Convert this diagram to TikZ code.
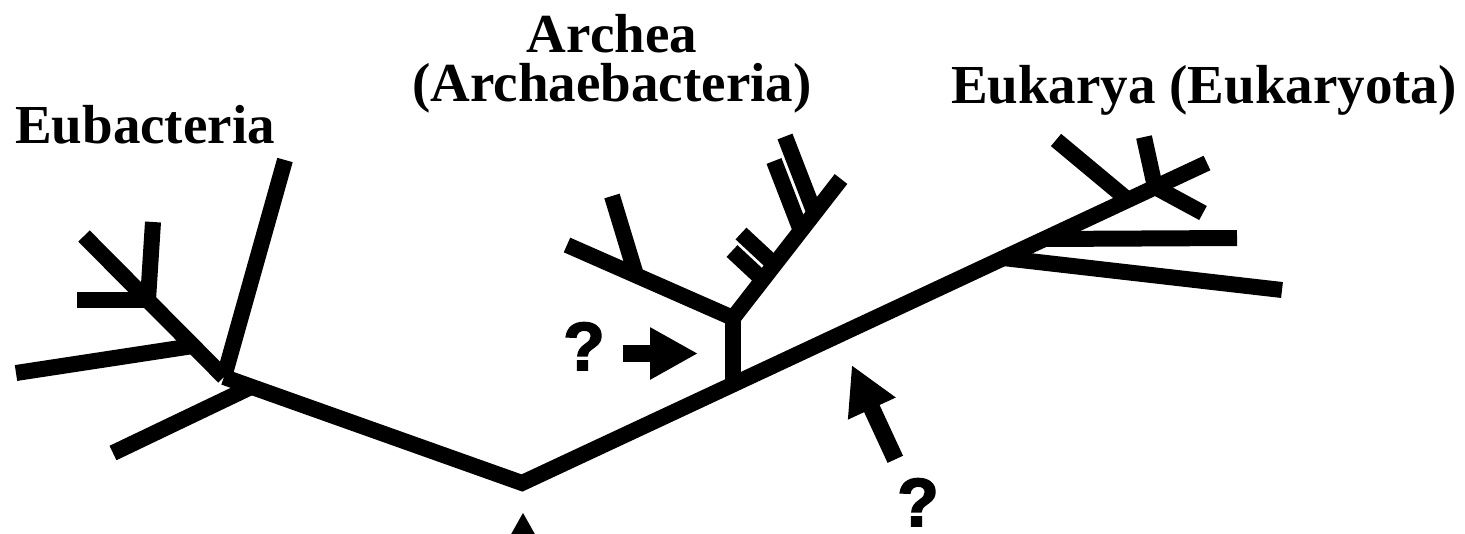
\documentclass[tikz,border=0pt]{standalone}
\usepackage{fontspec}
\setmainfont{Liberation Serif}
\newfontfamily\qfont[FakeBold=2.5]{Liberation Sans}
\usetikzlibrary{arrows.meta}
\begin{document}
\begin{tikzpicture}[x=1pt,y=-1pt,
  br/.style={line width=16pt,line cap=butt,line join=miter},
  lbl/.style={font=\fontsize{55}{45}\selectfont\bfseries, inner sep=0pt},
  qm/.style={font=\qfont\fontsize{68}{68}\selectfont\bfseries, inner sep=0pt},
  ptr/.style={line width=17pt,line cap=butt,-{Triangle[length=48pt,width=49pt]}}]
\useasboundingbox (0,0) rectangle (1465,533);
\fill[white] (0,0) rectangle (1465,533);
\clip (0,0) rectangle (1465,533);

% ---- trunk ----
\coordinate (J1) at (224,377);
\coordinate (V)  at (522,483);
\coordinate (TE) at (1207,163);
\draw[br] (J1) -- (V) -- (TE);

% ---- Eubacteria ----
\coordinate (EbUp) at (285,160);
\coordinate (EbL0) at (251,387);
\coordinate (EbL)  at (113,453);
\coordinate (EbD)  at (84,236);
\coordinate (EbM0) at (193,346);
\coordinate (EbM)  at (16,373);
\coordinate (EbS0) at (148,300);
\coordinate (EbH)  at (77,300);
\coordinate (EbV)  at (153,222);
\draw[br] (J1) -- (EbUp);
\draw[br] (EbL0) -- (EbL);
\draw[br] (J1) -- (EbD);
\draw[br] (EbM0) -- (EbM);
\draw[br] (EbS0) -- (EbH);
\draw[br] (EbS0) -- (EbV);

% ---- Archaea ----
\coordinate (A0) at (733,384);
\coordinate (A)  at (733,318);
\coordinate (AL) at (567,245);
\coordinate (AR) at (841,179);
\coordinate (AS0) at (636,275);
\coordinate (AS)  at (612,196);
\draw[br] (A0) -- (A);
\draw[br] (AL) -- (A) -- (AR);
\draw[br] (AS0) -- (AS);
% upper double branch
\coordinate (Ai0) at (800.9,230.6);
\coordinate (Ai)  at (774,161);
\coordinate (Ao0) at (814.6,213);
\coordinate (Ao)  at (785,136.5);
\draw[br] (Ai0) -- (Ai);
\draw[br] (Ao0) -- (Ao);
% lower double branch
\coordinate (Bu0) at (774.4,264.6);
\coordinate (Bu)  at (741,233.5);
\coordinate (Bl0) at (762.8,279.7);
\coordinate (Bl)  at (732,251);
\draw[br] (Bu0) -- (Bu);
\draw[br] (Bl0) -- (Bl);

% ---- Eukarya ----
\coordinate (E1) at (1003,258);
\coordinate (E1t) at (1282,290);
\coordinate (E2) at (1045,239);
\coordinate (E2t) at (1237,238);
\coordinate (E3) at (1128,200);
\coordinate (E3t) at (1056,140);
\coordinate (E4) at (1155,187);
\coordinate (E4u) at (1144,137);
\coordinate (E4d) at (1203,213);
\draw[br] (E1) -- (E1t);
\draw[br] (E2) -- (E2t);
\draw[br] (E3) -- (E3t);
\draw[br] (E4) -- (E4u);
\draw[br] (E4) -- (E4d);

% ---- labels ----
\node[lbl, anchor=base west] (eub) at (15,143) {Eubacteria};
\node[lbl, anchor=base] (arc1) at (612,52) {Archea};
\node[lbl, anchor=base] (arc2) at (612,101) {(Archaebacteria)};
\node[lbl, anchor=base east] (euk) at (1457,103) {Eukarya (Eukaryota)};

% ---- question marks and pointers ----
\node[qm, anchor=base] (q1) at (584,370) {?};
\node[qm, anchor=base] (q2) at (918,526) {?};
\coordinate (p1a) at (623,353.5);
\coordinate (p1b) at (698,353.5);
\draw[ptr] (p1a) -- (p1b);
\coordinate (p2a) at (895.3,459.3);
\coordinate (p2b) at (851.7,365);
\draw[ptr] (p2a) -- (p2b);
\coordinate (p3a) at (523,620);
\coordinate (p3b) at (523,512);
\draw[ptr] (p3a) -- (p3b);
\end{tikzpicture}
\end{document}
